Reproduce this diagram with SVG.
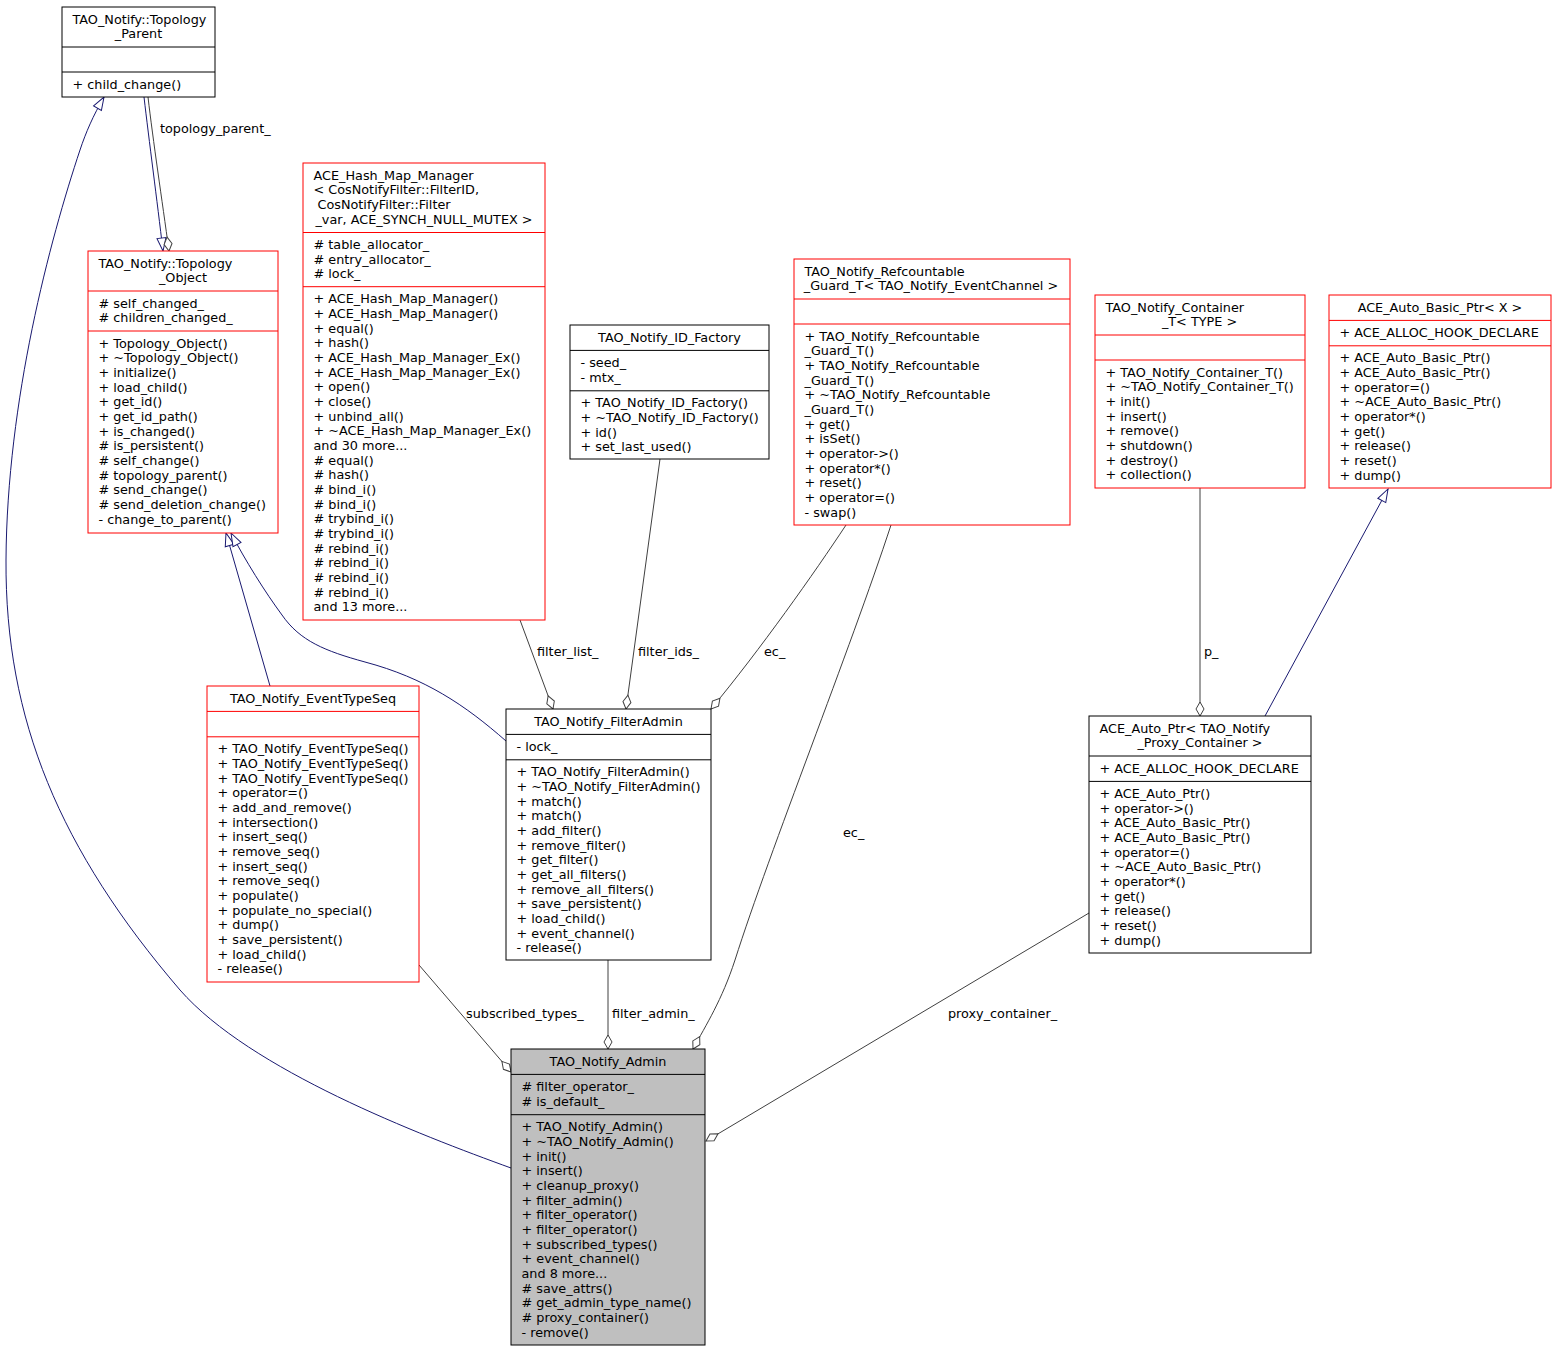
<svg xmlns="http://www.w3.org/2000/svg" width="1556" height="1352" viewBox="0 0 1556 1352">
<style>
text{font-family:"DejaVu Sans","Liberation Sans",sans-serif;font-size:12.8px;fill:#000}
.c{text-anchor:middle}
.r{fill:#fff;stroke:#ff0000;stroke-width:1}
.k{fill:#fff;stroke:#000;stroke-width:1}
.g{fill:#bfbfbf;stroke:#000;stroke-width:1}
.sr{stroke:#ff0000}
.sk{stroke:#000}
.inh{fill:none;stroke:#191970;stroke-width:1}
.agg{fill:none;stroke:#404040;stroke-width:1}
</style>
<defs>
<marker id="tri" markerUnits="userSpaceOnUse" viewBox="-1 -6 15 12" refX="13" refY="0" markerWidth="15" markerHeight="12" orient="auto">
<polygon points="0,-4.5 13,0 0,4.5" fill="#fff" stroke="#191970" stroke-width="1"/>
</marker>
<marker id="dia" markerUnits="userSpaceOnUse" viewBox="-1 -6 16 12" refX="14" refY="0" markerWidth="16" markerHeight="12" orient="auto">
<polygon points="0,0 7,-4 14,0 7,4" fill="#fff" stroke="#404040" stroke-width="1"/>
</marker>
</defs>
<rect width="1556" height="1352" fill="#fff"/>

<g id="connectors">
<path class="inh" d="M144,97 C149,140 157,200 163,251" marker-end="url(#tri)"/>
<path class="agg" d="M148,97 C153,140 162,200 169,251" marker-end="url(#dia)"/>
<text x="160" y="133">topology_parent_</text>
<path class="inh" d="M511,1168 C420,1135 250,1070 180,990 C60,850 5,720 6,560 C7,400 50,240 80,150 C86,132 93,116 104,97" marker-end="url(#tri)"/>
<path class="inh" d="M270,686 L226,533" marker-end="url(#tri)"/>
<path class="inh" d="M506,741 C465,705 425,678 365,662 C325,651 300,641 282,615 C265,592 245,560 231,533" marker-end="url(#tri)"/>
<path class="agg" d="M520,620 L553,709" marker-end="url(#dia)"/>
<text x="537" y="656">filter_list_</text>
<path class="agg" d="M660,459 L626,709" marker-end="url(#dia)"/>
<text x="638" y="656">filter_ids_</text>
<path class="agg" d="M846,525 C815,572 760,650 711,709" marker-end="url(#dia)"/>
<text x="764" y="656">ec_</text>
<path class="agg" d="M891,525 C850,650 770,850 735,960 C722,1000 706,1025 693,1049" marker-end="url(#dia)"/>
<text x="843" y="837">ec_</text>
<path class="agg" d="M419,965 L511,1072" marker-end="url(#dia)"/>
<text x="466" y="1018">subscribed_types_</text>
<path class="agg" d="M608,960 L608,1049" marker-end="url(#dia)"/>
<text x="612" y="1018">filter_admin_</text>
<path class="agg" d="M1089,913 L706,1141" marker-end="url(#dia)"/>
<text x="948" y="1018">proxy_container_</text>
<path class="agg" d="M1200,488 L1200,716" marker-end="url(#dia)"/>
<text x="1204" y="656">p_</text>
<path class="inh" d="M1265,716 L1388,489" marker-end="url(#tri)"/>
</g>

<g id="Topology_Parent">
<rect class="k" x="62" y="7" width="153" height="90"/>
<line class="sk" x1="62" y1="47" x2="215" y2="47"/>
<line class="sk" x1="62" y1="72" x2="215" y2="72"/>
<text x="72.5" y="23.5">TAO_Notify::Topology</text>
<text class="c" x="138.5" y="38.2">_Parent</text>
<text x="72.5" y="88.5">+ child_change()</text>
</g>

<g id="Topology_Object">
<rect class="r" x="88" y="251" width="190" height="282"/>
<line class="sr" x1="88" y1="291" x2="278" y2="291"/>
<line class="sr" x1="88" y1="331" x2="278" y2="331"/>
<text x="98.5" y="267.5">TAO_Notify::Topology</text>
<text class="c" x="183" y="282.2">_Object</text>
<text x="98.5" y="307.5">
<tspan x="98.5" dy="0"># self_changed_</tspan>
<tspan x="98.5" dy="14.67"># children_changed_</tspan>
</text>
<text x="98.5" y="347.5">
<tspan x="98.5" dy="0">+ Topology_Object()</tspan>
<tspan x="98.5" dy="14.67">+ ~Topology_Object()</tspan>
<tspan x="98.5" dy="14.67">+ initialize()</tspan>
<tspan x="98.5" dy="14.67">+ load_child()</tspan>
<tspan x="98.5" dy="14.67">+ get_id()</tspan>
<tspan x="98.5" dy="14.67">+ get_id_path()</tspan>
<tspan x="98.5" dy="14.67">+ is_changed()</tspan>
<tspan x="98.5" dy="14.67"># is_persistent()</tspan>
<tspan x="98.5" dy="14.67"># self_change()</tspan>
<tspan x="98.5" dy="14.67"># topology_parent()</tspan>
<tspan x="98.5" dy="14.67"># send_change()</tspan>
<tspan x="98.5" dy="14.67"># send_deletion_change()</tspan>
<tspan x="98.5" dy="14.67">- change_to_parent()</tspan>
</text>
</g>

<g id="Hash_Map_Manager">
<rect class="r" x="303" y="163" width="242" height="457"/>
<line class="sr" x1="303" y1="232.5" x2="545" y2="232.5"/>
<line class="sr" x1="303" y1="286.7" x2="545" y2="286.7"/>
<text x="313.5" y="179.5">
<tspan x="313.5" dy="0">ACE_Hash_Map_Manager</tspan>
<tspan x="313.5" dy="14.67">&lt; CosNotifyFilter::FilterID,</tspan>
<tspan x="317.5" dy="14.67">CosNotifyFilter::Filter</tspan>
</text>
<text class="c" x="424" y="223.5">_var, ACE_SYNCH_NULL_MUTEX &gt;</text>
<text x="313.5" y="249">
<tspan x="313.5" dy="0"># table_allocator_</tspan>
<tspan x="313.5" dy="14.67"># entry_allocator_</tspan>
<tspan x="313.5" dy="14.67"># lock_</tspan>
</text>
<text x="313.5" y="303.2">
<tspan x="313.5" dy="0">+ ACE_Hash_Map_Manager()</tspan>
<tspan x="313.5" dy="14.67">+ ACE_Hash_Map_Manager()</tspan>
<tspan x="313.5" dy="14.67">+ equal()</tspan>
<tspan x="313.5" dy="14.67">+ hash()</tspan>
<tspan x="313.5" dy="14.67">+ ACE_Hash_Map_Manager_Ex()</tspan>
<tspan x="313.5" dy="14.67">+ ACE_Hash_Map_Manager_Ex()</tspan>
<tspan x="313.5" dy="14.67">+ open()</tspan>
<tspan x="313.5" dy="14.67">+ close()</tspan>
<tspan x="313.5" dy="14.67">+ unbind_all()</tspan>
<tspan x="313.5" dy="14.67">+ ~ACE_Hash_Map_Manager_Ex()</tspan>
<tspan x="313.5" dy="14.67">and 30 more...</tspan>
<tspan x="313.5" dy="14.67"># equal()</tspan>
<tspan x="313.5" dy="14.67"># hash()</tspan>
<tspan x="313.5" dy="14.67"># bind_i()</tspan>
<tspan x="313.5" dy="14.67"># bind_i()</tspan>
<tspan x="313.5" dy="14.67"># trybind_i()</tspan>
<tspan x="313.5" dy="14.67"># trybind_i()</tspan>
<tspan x="313.5" dy="14.67"># rebind_i()</tspan>
<tspan x="313.5" dy="14.67"># rebind_i()</tspan>
<tspan x="313.5" dy="14.67"># rebind_i()</tspan>
<tspan x="313.5" dy="14.67"># rebind_i()</tspan>
<tspan x="313.5" dy="14.67">and 13 more...</tspan>
</text>
</g>

<g id="ID_Factory">
<rect class="k" x="570" y="325" width="199" height="134"/>
<line class="sk" x1="570" y1="350.4" x2="769" y2="350.4"/>
<line class="sk" x1="570" y1="390.8" x2="769" y2="390.8"/>
<text class="c" x="669.5" y="341.5">TAO_Notify_ID_Factory</text>
<text x="580.5" y="366.9">
<tspan x="580.5" dy="0">- seed_</tspan>
<tspan x="580.5" dy="14.67">- mtx_</tspan>
</text>
<text x="580.5" y="407.3">
<tspan x="580.5" dy="0">+ TAO_Notify_ID_Factory()</tspan>
<tspan x="580.5" dy="14.67">+ ~TAO_Notify_ID_Factory()</tspan>
<tspan x="580.5" dy="14.67">+ id()</tspan>
<tspan x="580.5" dy="14.67">+ set_last_used()</tspan>
</text>
</g>

<g id="Refcountable_Guard">
<rect class="r" x="794" y="259" width="276" height="266"/>
<line class="sr" x1="794" y1="299" x2="1070" y2="299"/>
<line class="sr" x1="794" y1="324" x2="1070" y2="324"/>
<text x="804.5" y="275.5">TAO_Notify_Refcountable</text>
<text class="c" x="931" y="290.2">_Guard_T&lt; TAO_Notify_EventChannel &gt;</text>
<text x="804.5" y="340.5">
<tspan x="804.5" dy="0">+ TAO_Notify_Refcountable</tspan>
<tspan x="804.5" dy="14.67">_Guard_T()</tspan>
<tspan x="804.5" dy="14.67">+ TAO_Notify_Refcountable</tspan>
<tspan x="804.5" dy="14.67">_Guard_T()</tspan>
<tspan x="804.5" dy="14.67">+ ~TAO_Notify_Refcountable</tspan>
<tspan x="804.5" dy="14.67">_Guard_T()</tspan>
<tspan x="804.5" dy="14.67">+ get()</tspan>
<tspan x="804.5" dy="14.67">+ isSet()</tspan>
<tspan x="804.5" dy="14.67">+ operator-&gt;()</tspan>
<tspan x="804.5" dy="14.67">+ operator*()</tspan>
<tspan x="804.5" dy="14.67">+ reset()</tspan>
<tspan x="804.5" dy="14.67">+ operator=()</tspan>
<tspan x="804.5" dy="14.67">- swap()</tspan>
</text>
</g>

<g id="Container_T">
<rect class="r" x="1095" y="295" width="210" height="193"/>
<line class="sr" x1="1095" y1="335" x2="1305" y2="335"/>
<line class="sr" x1="1095" y1="360" x2="1305" y2="360"/>
<text x="1105.5" y="311.5">TAO_Notify_Container</text>
<text class="c" x="1199.5" y="326.2">_T&lt; TYPE &gt;</text>
<text x="1105.5" y="376.5">
<tspan x="1105.5" dy="0">+ TAO_Notify_Container_T()</tspan>
<tspan x="1105.5" dy="14.67">+ ~TAO_Notify_Container_T()</tspan>
<tspan x="1105.5" dy="14.67">+ init()</tspan>
<tspan x="1105.5" dy="14.67">+ insert()</tspan>
<tspan x="1105.5" dy="14.67">+ remove()</tspan>
<tspan x="1105.5" dy="14.67">+ shutdown()</tspan>
<tspan x="1105.5" dy="14.67">+ destroy()</tspan>
<tspan x="1105.5" dy="14.67">+ collection()</tspan>
</text>
</g>

<g id="Auto_Basic_Ptr">
<rect class="r" x="1329" y="295" width="222" height="193"/>
<line class="sr" x1="1329" y1="320.4" x2="1551" y2="320.4"/>
<line class="sr" x1="1329" y1="345.8" x2="1551" y2="345.8"/>
<text class="c" x="1440" y="311.5">ACE_Auto_Basic_Ptr&lt; X &gt;</text>
<text x="1339.5" y="336.9">+ ACE_ALLOC_HOOK_DECLARE</text>
<text x="1339.5" y="362.3">
<tspan x="1339.5" dy="0">+ ACE_Auto_Basic_Ptr()</tspan>
<tspan x="1339.5" dy="14.67">+ ACE_Auto_Basic_Ptr()</tspan>
<tspan x="1339.5" dy="14.67">+ operator=()</tspan>
<tspan x="1339.5" dy="14.67">+ ~ACE_Auto_Basic_Ptr()</tspan>
<tspan x="1339.5" dy="14.67">+ operator*()</tspan>
<tspan x="1339.5" dy="14.67">+ get()</tspan>
<tspan x="1339.5" dy="14.67">+ release()</tspan>
<tspan x="1339.5" dy="14.67">+ reset()</tspan>
<tspan x="1339.5" dy="14.67">+ dump()</tspan>
</text>
</g>

<g id="EventTypeSeq">
<rect class="r" x="207" y="686" width="212" height="296"/>
<line class="sr" x1="207" y1="711.4" x2="419" y2="711.4"/>
<line class="sr" x1="207" y1="736.8" x2="419" y2="736.8"/>
<text class="c" x="313" y="702.5">TAO_Notify_EventTypeSeq</text>
<text x="217.5" y="753.3">
<tspan x="217.5" dy="0">+ TAO_Notify_EventTypeSeq()</tspan>
<tspan x="217.5" dy="14.67">+ TAO_Notify_EventTypeSeq()</tspan>
<tspan x="217.5" dy="14.67">+ TAO_Notify_EventTypeSeq()</tspan>
<tspan x="217.5" dy="14.67">+ operator=()</tspan>
<tspan x="217.5" dy="14.67">+ add_and_remove()</tspan>
<tspan x="217.5" dy="14.67">+ intersection()</tspan>
<tspan x="217.5" dy="14.67">+ insert_seq()</tspan>
<tspan x="217.5" dy="14.67">+ remove_seq()</tspan>
<tspan x="217.5" dy="14.67">+ insert_seq()</tspan>
<tspan x="217.5" dy="14.67">+ remove_seq()</tspan>
<tspan x="217.5" dy="14.67">+ populate()</tspan>
<tspan x="217.5" dy="14.67">+ populate_no_special()</tspan>
<tspan x="217.5" dy="14.67">+ dump()</tspan>
<tspan x="217.5" dy="14.67">+ save_persistent()</tspan>
<tspan x="217.5" dy="14.67">+ load_child()</tspan>
<tspan x="217.5" dy="14.67">- release()</tspan>
</text>
</g>

<g id="FilterAdmin">
<rect class="k" x="506" y="709" width="205" height="251"/>
<line class="sk" x1="506" y1="734.4" x2="711" y2="734.4"/>
<line class="sk" x1="506" y1="759.8" x2="711" y2="759.8"/>
<text class="c" x="608.5" y="725.5">TAO_Notify_FilterAdmin</text>
<text x="516.5" y="750.9">- lock_</text>
<text x="516.5" y="776.3">
<tspan x="516.5" dy="0">+ TAO_Notify_FilterAdmin()</tspan>
<tspan x="516.5" dy="14.67">+ ~TAO_Notify_FilterAdmin()</tspan>
<tspan x="516.5" dy="14.67">+ match()</tspan>
<tspan x="516.5" dy="14.67">+ match()</tspan>
<tspan x="516.5" dy="14.67">+ add_filter()</tspan>
<tspan x="516.5" dy="14.67">+ remove_filter()</tspan>
<tspan x="516.5" dy="14.67">+ get_filter()</tspan>
<tspan x="516.5" dy="14.67">+ get_all_filters()</tspan>
<tspan x="516.5" dy="14.67">+ remove_all_filters()</tspan>
<tspan x="516.5" dy="14.67">+ save_persistent()</tspan>
<tspan x="516.5" dy="14.67">+ load_child()</tspan>
<tspan x="516.5" dy="14.67">+ event_channel()</tspan>
<tspan x="516.5" dy="14.67">- release()</tspan>
</text>
</g>

<g id="Auto_Ptr">
<rect class="k" x="1089" y="716" width="222" height="237"/>
<line class="sk" x1="1089" y1="756" x2="1311" y2="756"/>
<line class="sk" x1="1089" y1="781.4" x2="1311" y2="781.4"/>
<text x="1099.5" y="732.5">ACE_Auto_Ptr&lt; TAO_Notify</text>
<text class="c" x="1200" y="747.2">_Proxy_Container &gt;</text>
<text x="1099.5" y="772.5">+ ACE_ALLOC_HOOK_DECLARE</text>
<text x="1099.5" y="797.9">
<tspan x="1099.5" dy="0">+ ACE_Auto_Ptr()</tspan>
<tspan x="1099.5" dy="14.67">+ operator-&gt;()</tspan>
<tspan x="1099.5" dy="14.67">+ ACE_Auto_Basic_Ptr()</tspan>
<tspan x="1099.5" dy="14.67">+ ACE_Auto_Basic_Ptr()</tspan>
<tspan x="1099.5" dy="14.67">+ operator=()</tspan>
<tspan x="1099.5" dy="14.67">+ ~ACE_Auto_Basic_Ptr()</tspan>
<tspan x="1099.5" dy="14.67">+ operator*()</tspan>
<tspan x="1099.5" dy="14.67">+ get()</tspan>
<tspan x="1099.5" dy="14.67">+ release()</tspan>
<tspan x="1099.5" dy="14.67">+ reset()</tspan>
<tspan x="1099.5" dy="14.67">+ dump()</tspan>
</text>
</g>

<g id="Admin">
<rect class="g" x="511" y="1049" width="194" height="296"/>
<line class="sk" x1="511" y1="1074.4" x2="705" y2="1074.4"/>
<line class="sk" x1="511" y1="1114.7" x2="705" y2="1114.7"/>
<text class="c" x="608" y="1065.5">TAO_Notify_Admin</text>
<text x="521.5" y="1090.9">
<tspan x="521.5" dy="0"># filter_operator_</tspan>
<tspan x="521.5" dy="14.67"># is_default_</tspan>
</text>
<text x="521.5" y="1131.2">
<tspan x="521.5" dy="0">+ TAO_Notify_Admin()</tspan>
<tspan x="521.5" dy="14.67">+ ~TAO_Notify_Admin()</tspan>
<tspan x="521.5" dy="14.67">+ init()</tspan>
<tspan x="521.5" dy="14.67">+ insert()</tspan>
<tspan x="521.5" dy="14.67">+ cleanup_proxy()</tspan>
<tspan x="521.5" dy="14.67">+ filter_admin()</tspan>
<tspan x="521.5" dy="14.67">+ filter_operator()</tspan>
<tspan x="521.5" dy="14.67">+ filter_operator()</tspan>
<tspan x="521.5" dy="14.67">+ subscribed_types()</tspan>
<tspan x="521.5" dy="14.67">+ event_channel()</tspan>
<tspan x="521.5" dy="14.67">and 8 more...</tspan>
<tspan x="521.5" dy="14.67"># save_attrs()</tspan>
<tspan x="521.5" dy="14.67"># get_admin_type_name()</tspan>
<tspan x="521.5" dy="14.67"># proxy_container()</tspan>
<tspan x="521.5" dy="14.67">- remove()</tspan>
</text>
</g>
</svg>
